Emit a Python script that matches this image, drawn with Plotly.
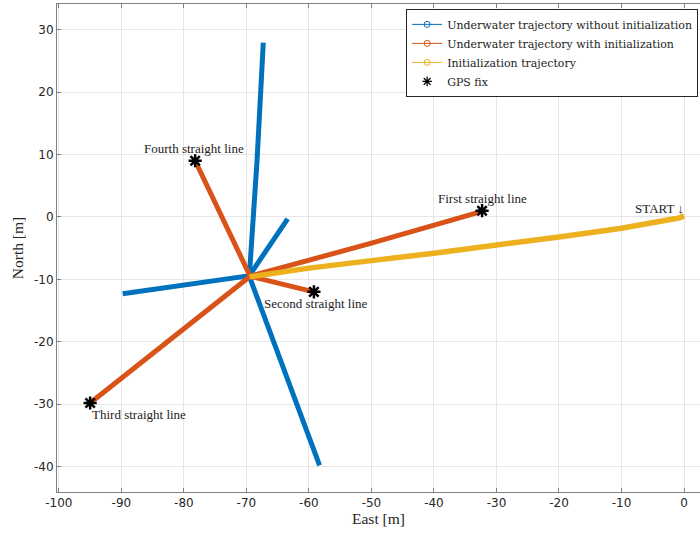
import plotly.graph_objects as go

# ---- data (East [m], North [m]) ----
# Underwater trajectory without initialization (4 straight lines)
blue_up_x = [-69.5, -68.3, -67.3]
blue_up_y = [-9.0, 9.0, 27.9]
blue_ur_x = [-69.4, -66.4, -63.4]
blue_ur_y = [-9.2, -4.8, -0.3]
blue_left_x = [-89.8, -80.0, -69.4]
blue_left_y = [-12.3, -11.0, -9.4]
blue_down_x = [-69.5, -63.8, -58.3]
blue_down_y = [-9.6, -25.0, -39.8]

# Underwater trajectory with initialization
or_first_x = [-69.4, -50.0, -32.3]
or_first_y = [-9.5, -4.2, 0.9]
or_second_x = [-69.4, -64.0, -59.2]
or_second_y = [-9.5, -10.9, -12.0]
or_third_x = [-69.4, -80.0, -94.2, -95.0]
or_third_y = [-9.5, -17.9, -29.4, -29.8]
or_fourth_x = [-69.4, -74.0, -78.2]
or_fourth_y = [-9.5, 0.2, 9.0]

# Initialization trajectory
init_x = [0.0, -0.6, -1.5, -3.0, -10.0, -20.0, -30.0, -40.0, -50.0, -60.0, -69.5]
init_y = [0.2, -0.1, -0.3, -0.6, -1.8, -3.2, -4.6, -5.8, -7.0, -8.2, -9.6]

# GPS fixes
gps_x = [-32.3, -59.2, -95.0, -78.2]
gps_y = [1.0, -12.0, -29.8, 9.0]

# annotations
ann_text = ["First straight line", "Second straight line", "Third straight line",
            "Fourth straight line", "START \u2193"]
ann_x = [-32.2, -59.0, -87.2, -78.4, 0.3]
ann_y = [3.0, -13.8, -31.6, 10.9, 1.4]
ann_anchor = ["center", "center", "center", "center", "right"]

xticks = [-100, -90, -80, -70, -60, -50, -40, -30, -20, -10, 0]
yticks = [-40, -30, -20, -10, 0, 10, 20, 30]

BLUE = "#0072BD"
ORANGE = "#D95319"
YELLOW = "#EDB120"
SERIF = "Liberation Serif"

def join(segs):
    xs, ys = [], []
    for sx, sy in segs:
        xs += sx + [None]
        ys += sy + [None]
    return xs, ys

fig = go.Figure()

bx, by = join([(blue_up_x, blue_up_y), (blue_ur_x, blue_ur_y),
               (blue_left_x, blue_left_y), (blue_down_x, blue_down_y)])
fig.add_trace(go.Scatter(x=bx, y=by, mode="lines", showlegend=False,
                         line=dict(color=BLUE, width=5)))
ox, oy = join([(or_first_x, or_first_y), (or_second_x, or_second_y),
               (or_third_x, or_third_y), (or_fourth_x, or_fourth_y)])
fig.add_trace(go.Scatter(x=ox, y=oy, mode="lines", showlegend=False,
                         line=dict(color=ORANGE, width=5)))
fig.add_trace(go.Scatter(x=init_x, y=init_y, mode="lines", showlegend=False,
                         line=dict(color=YELLOW, width=5.5)))
fig.add_trace(go.Scatter(x=gps_x, y=gps_y, mode="markers", showlegend=False,
                         marker=dict(symbol="asterisk-open", size=11, color="black",
                                     line=dict(color="black", width=2.5))))
fig.add_trace(go.Scatter(x=gps_x, y=gps_y, mode="markers", showlegend=False,
                         marker=dict(symbol="circle", size=6, color="black")))

# legend entries
for name, col in [("Underwater trajectory without initialization", BLUE),
                  ("Underwater trajectory with initialization", ORANGE),
                  ("Initialization trajectory", YELLOW)]:
    fig.add_trace(go.Scatter(x=[None], y=[None], mode="lines+markers", name=name,
                             line=dict(color=col, width=1),
                             marker=dict(symbol="circle-open", size=6, color=col)))
fig.add_trace(go.Scatter(x=[None], y=[None], mode="markers", name="GPS fix",
                         marker=dict(symbol="asterisk-open", size=8, color="black",
                                     line=dict(color="black", width=1.2))))

for t, x, y, a in zip(ann_text, ann_x, ann_y, ann_anchor):
    fig.add_annotation(x=x, y=y, text=t, showarrow=False, xanchor=a, yanchor="middle",
                       font=dict(family=SERIF, size=13, color="#222222"))

axis_common = dict(showgrid=True, gridcolor="#e6e6e6", gridwidth=1, zeroline=False,
                   showline=True, linecolor="#808080", linewidth=1,
                   ticks="inside", ticklen=4, tickcolor="#808080",
                   tickfont=dict(family="DejaVu Sans", size=12, color="#262626"))

fig.update_xaxes(range=[-100.3, 2.56], tickvals=xticks,
                 ticktext=[str(v) for v in xticks], mirror="ticks",
                 title=dict(text="East [m]", font=dict(family=SERIF, size=15.5, color="#262626"),
                            standoff=3),
                 **axis_common)
fig.update_yaxes(range=[-44.05, 34.1], tickvals=yticks,
                 ticktext=[str(v) for v in yticks], mirror=False,
                 title=dict(text="North [m]", font=dict(family=SERIF, size=15.5, color="#262626"),
                            standoff=6),
                 **axis_common)

fig.update_layout(
    width=700, height=536,
    margin=dict(l=57, r=0, t=4, b=44, autoexpand=False),
    paper_bgcolor="white", plot_bgcolor="white",
    legend=dict(x=0.543, y=0.99, xanchor="left", yanchor="top",
                bgcolor="white", bordercolor="#262626", borderwidth=1,
                font=dict(family="DejaVu Serif", size=11, color="#222222"),
                itemwidth=30, tracegroupgap=0),
)

fig.write_html("out.html", config={"displayModeBar": False},
               post_script="document.body.style.margin='0';")
